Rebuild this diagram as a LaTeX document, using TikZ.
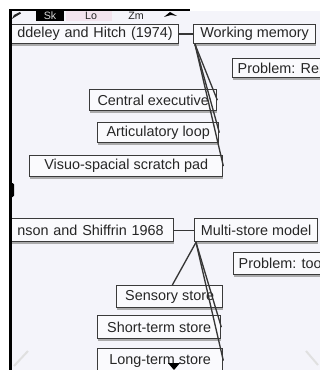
\documentclass[tikz,border=0pt]{standalone}
\usepackage{fontspec}
\setmainfont{Liberation Sans}
\usetikzlibrary{shadows}
\definecolor{pagebg}{HTML}{F4F4FA}
\definecolor{boxline}{HTML}{3A3A3A}
\definecolor{ink}{HTML}{262626}
\definecolor{linkc}{HTML}{363636}
\definecolor{selpink}{HTML}{F2E4EE}
\begin{document}
\begin{tikzpicture}[x=0.75pt,y=-0.75pt,
  topic/.style={draw=boxline, line width=1pt, fill=white!55!pagebg, rectangle,
    inner sep=0pt, anchor=north west, text=ink, font=\fontsize{10.8}{12}\selectfont,
    drop shadow={shadow xshift=0.5pt, shadow yshift=-1.5pt, fill=black!40, opacity=0.8}},
  cuttopic/.style={topic, align=right},
  link/.style={draw=linkc, line width=1pt},
  tool/.style={font=\fontsize{8}{9}\selectfont, inner sep=0pt, text=ink}
]
\useasboundingbox (0,0) rectangle (320,370);
\fill[white] (0,0) rectangle (320,370);
\fill[pagebg] (11,11) rectangle (320,370);

\begin{scope}
\clip (11.5,11) rectangle (320,370);
% first model
\node[cuttopic, text width=129pt, inner xsep=4.5pt, minimum height=14.25pt] (bh) at (-6,24) {ddeley and Hitch (1974)};
\node[topic, minimum width=91.5pt, minimum height=14.25pt] (wm) at (193,24) {Working memory};
\node[topic, inner xsep=3.75pt, minimum height=14.25pt] (p1) at (232,58) {Problem: Rel};
\node[topic, minimum width=95.25pt, minimum height=15.75pt] (ce) at (89,89) {Central executive};
\node[topic, minimum width=90.75pt, minimum height=15pt] (al) at (97,122) {Articulatory loop};
\node[topic, minimum width=144.75pt, minimum height=15.75pt] (vs) at (29,155) {Visuo-spacial scratch pad};

% second model
\node[cuttopic, text width=129.75pt, inner xsep=7.5pt, minimum height=17.25pt] (as) at (-20,218) {nson and Shiffrin 1968};
\node[topic, minimum width=92.25pt, minimum height=17.25pt] (ms) at (194,218) {Multi-store model};
\node[topic, inner xsep=3.75pt, minimum height=16.5pt] (p2) at (233,252) {Problem: too};
\node[topic, minimum width=79.5pt, minimum height=16.5pt] (ss) at (116,285) {Sensory store};
\node[topic, minimum width=92.25pt, minimum height=17.25pt] (st) at (97,315) {Short-term store};
\node[topic, minimum width=93.75pt, minimum height=18pt] (lt) at (97,348) {Long-term store};

% connectors
\draw[link] (bh.east) -- (wm.west);
\draw[link] ([xshift=1.5pt]wm.south west) -- (ce.east);
\draw[link] ([xshift=1.5pt]wm.south west) -- (al.east);
\draw[link] ([xshift=1.5pt]wm.south west) -- (vs.east);
\draw[link] (as.east) -- (ms.west);
\draw[link] ([xshift=1.5pt]ms.south west) -- ([xshift=2pt]ss.north);
\draw[link] ([xshift=1.5pt]ms.south west) -- (st.east);
\draw[link] ([xshift=1.5pt]ms.south west) -- (lt.east);

% faint corner marks and cursor
\draw[black!12, line width=1.5pt] (14,366) -- (28,351);
\draw[black!12, line width=1.5pt] (306,351) -- (318,365);
\fill[black] (168,363) -- (180,363) -- (174,370) -- cycle;
\end{scope}

% window frame
\fill[black] (9,9) rectangle (190,11);
\fill[black] (9,9) rectangle (11.5,370);
\fill[black, rounded corners=1pt] (9,183) rectangle (14,197);

% toolbar
\fill[ink] (12,19) -- (14,15) -- (20,12) -- (21,13.5) -- (15,17) -- cycle;
\fill[black] (36,11) rectangle (64,21);
\node[tool, text=white!85!black] (sk) at (50,16) {Sk};
\fill[selpink] (66,11) rectangle (112,21);
\node[tool] (lo) at (91,16) {Lo};
\node[tool] (zm) at (136,16) {Zm};
\fill[black] (164,17) -- (170,12) -- (177,16) -- (171,15) -- cycle;
\end{tikzpicture}
\end{document}
